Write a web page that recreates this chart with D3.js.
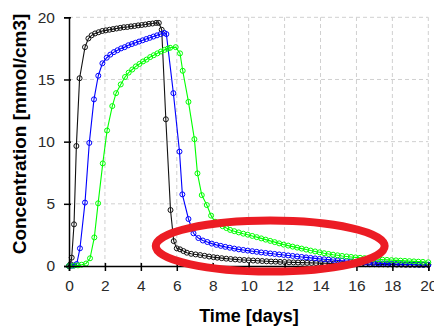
<!DOCTYPE html>
<html>
<head>
<meta charset="utf-8">
<script src="https://cdn.jsdelivr.net/npm/d3@7"></script>
<style>
  body { margin: 0; background: #fff; }
  svg { display: block; font-family: Arial, "Liberation Sans", sans-serif; }
</style>
</head>
<body>
<div id="chart"></div>
<script>
// tick labels
const xTicks = [0, 2, 4, 6, 8, 10, 12, 14, 16, 18, 20];
const yTicks = [0, 5, 10, 15, 20];

// series: [time (days), concentration (mmol/cm3)]
const blackSeries = [
  [0, 0], [0.08, 0.15], [0.15, 0.67], [0.28, 3.35], [0.41, 9.65], [0.59, 15.1], [0.89, 17.6],
  [1.08, 18.3], [1.26, 18.55], [1.45, 18.7], [1.65, 18.8], [1.85, 18.9], [2.05, 18.95], [2.25, 19.0],
  [2.45, 19.05], [2.65, 19.1], [2.85, 19.15], [3.05, 19.2], [3.25, 19.22], [3.45, 19.27], [3.65, 19.3],
  [3.85, 19.35], [4.05, 19.38], [4.25, 19.42], [4.45, 19.47], [4.65, 19.5], [4.85, 19.55], [5.0, 19.55],
  [5.16, 19.0], [5.39, 11.8], [5.65, 4.5], [5.83, 2.0], [6.0, 1.42], [6.18, 1.34], [6.37, 1.2],
  [6.56, 1.07], [6.8, 0.98], [7.05, 0.93], [7.3, 0.88], [7.55, 0.82], [7.8, 0.76], [8.04, 0.71],
  [8.25, 0.67], [8.5, 0.63], [8.75, 0.59], [9.0, 0.56], [9.25, 0.53], [9.5, 0.5], [9.75, 0.48],
  [10.0, 0.46], [10.25, 0.44], [10.5, 0.42], [10.75, 0.4], [11.0, 0.38], [11.25, 0.36], [11.5, 0.35],
  [11.75, 0.33], [12.0, 0.32], [12.25, 0.3], [12.5, 0.29], [12.75, 0.28], [13.0, 0.27], [13.25, 0.26],
  [13.5, 0.25], [13.75, 0.24], [14.0, 0.23], [14.25, 0.22], [14.5, 0.21], [14.75, 0.2], [15.0, 0.19],
  [15.25, 0.18], [15.5, 0.18], [15.75, 0.17], [16.0, 0.16], [16.25, 0.16], [16.5, 0.15], [16.75, 0.14],
  [17.0, 0.14], [17.25, 0.13], [17.5, 0.13], [17.75, 0.12], [18.0, 0.12], [18.25, 0.11], [18.5, 0.11],
  [18.75, 0.1], [19.0, 0.1], [19.25, 0.1], [19.5, 0.09], [19.75, 0.09], [20.0, 0.09]
];

const blueSeries = [
  [0, 0], [0.15, 0.02], [0.3, 0.05], [0.43, 0.16], [0.61, 1.42], [0.89, 5.1], [1.13, 9.9],
  [1.39, 13.4], [1.63, 15.3], [1.86, 16.3], [2.1, 16.75], [2.3, 17.0], [2.5, 17.2], [2.7, 17.35],
  [2.9, 17.5], [3.1, 17.6], [3.3, 17.75], [3.5, 17.85], [3.7, 17.95], [3.9, 18.05], [4.1, 18.15],
  [4.3, 18.25], [4.5, 18.35], [4.7, 18.45], [4.9, 18.55], [5.1, 18.65], [5.3, 18.75], [5.42, 18.65],
  [5.81, 13.9], [6.15, 9.2], [6.31, 5.76], [6.65, 3.78], [6.93, 2.63], [7.2, 2.25], [7.45, 2.05],
  [7.7, 1.93], [7.95, 1.8], [8.2, 1.7], [8.45, 1.62], [8.7, 1.54], [8.95, 1.47], [9.2, 1.4],
  [9.45, 1.34], [9.7, 1.29], [9.95, 1.24], [10.2, 1.19], [10.45, 1.14], [10.7, 1.09], [10.95, 1.05],
  [11.2, 1.01], [11.45, 0.97], [11.7, 0.93], [11.95, 0.89], [12.2, 0.85], [12.45, 0.81], [12.7, 0.77],
  [12.95, 0.73], [13.2, 0.69], [13.45, 0.65], [13.7, 0.61], [13.95, 0.57], [14.2, 0.54], [14.45, 0.51],
  [14.7, 0.48], [14.95, 0.45], [15.2, 0.42], [15.45, 0.39], [15.7, 0.36], [15.95, 0.33], [16.2, 0.3],
  [16.45, 0.28], [16.7, 0.26], [16.95, 0.24], [17.2, 0.22], [17.45, 0.2], [17.7, 0.19], [17.95, 0.17],
  [18.2, 0.16], [18.45, 0.15], [18.7, 0.14], [18.95, 0.13], [19.2, 0.12], [19.45, 0.11], [19.7, 0.1],
  [20.0, 0.1]
];

const greenSeries = [
  [0, 0], [0.25, 0.02], [0.5, 0.05], [0.7, 0.1], [0.95, 0.2], [1.17, 0.62], [1.41, 2.3],
  [1.62, 5.04], [1.88, 8.25], [2.12, 10.9], [2.41, 12.86], [2.62, 13.9], [2.88, 14.6], [3.12, 15.2],
  [3.32, 15.55], [3.52, 15.8], [3.72, 16.05], [3.92, 16.25], [4.12, 16.45], [4.32, 16.6], [4.52, 16.8],
  [4.72, 16.95], [4.92, 17.1], [5.12, 17.25], [5.32, 17.38], [5.5, 17.48], [5.63, 17.55], [5.94, 17.6],
  [6.18, 17.1], [6.33, 15.7], [6.65, 13.2], [6.98, 10.2], [7.15, 7.45], [7.39, 5.7], [7.67, 4.9],
  [7.91, 4.05], [8.13, 3.56], [8.35, 3.38], [8.55, 3.2], [8.76, 3.05], [8.97, 2.9], [9.2, 2.8],
  [9.45, 2.7], [9.7, 2.6], [9.95, 2.52], [10.2, 2.42], [10.45, 2.32], [10.7, 2.22], [10.95, 2.12],
  [11.2, 2.02], [11.45, 1.92], [11.7, 1.82], [11.95, 1.72], [12.2, 1.64], [12.45, 1.56], [12.7, 1.48],
  [12.95, 1.4], [13.2, 1.32], [13.45, 1.24], [13.7, 1.17], [13.95, 1.1], [14.2, 1.03], [14.45, 0.97],
  [14.7, 0.91], [14.95, 0.86], [15.2, 0.81], [15.45, 0.77], [15.7, 0.73], [15.95, 0.69], [16.2, 0.66],
  [16.45, 0.63], [16.7, 0.6], [16.95, 0.57], [17.2, 0.54], [17.45, 0.51], [17.7, 0.49], [17.95, 0.47],
  [18.2, 0.45], [18.45, 0.43], [18.7, 0.41], [18.95, 0.39], [19.2, 0.37], [19.45, 0.35], [19.7, 0.33],
  [20.0, 0.3]
];

const series = [
  {name: 'black', color: '#111111', values: blackSeries},
  {name: 'blue', color: '#0000ff', values: blueSeries},
  {name: 'green', color: '#00ff00', values: greenSeries}
];

// red annotation ellipse, in data units
const ellipseCenter = [11.2, 1.6];
const ellipseRadii = [6.37, 2.05];

const width = 434, height = 329;
const margin = {top: 17.3, right: 5.7, bottom: 63, left: 69};

const svg = d3.select('#chart')
  .append('svg')
  .attr('width', width)
  .attr('height', height);

const x = d3.scaleLinear().domain([0, 20]).range([margin.left, width - margin.right]);
const y = d3.scaleLinear().domain([0, 20]).range([height - margin.bottom, margin.top]);

// grid
const grid = svg.append('g')
  .attr('stroke', '#d0d0d0')
  .attr('stroke-width', 1)
  .attr('stroke-dasharray', '4,3');

grid.selectAll('line.vx')
  .data(xTicks.filter(d => d > 0))
  .enter().append('line')
  .attr('x1', d => x(d)).attr('x2', d => x(d))
  .attr('y1', y(0)).attr('y2', y(20));

grid.selectAll('line.hy')
  .data(yTicks.filter(d => d > 0))
  .enter().append('line')
  .attr('x1', x(0)).attr('x2', x(20))
  .attr('y1', d => y(d)).attr('y2', d => y(d));

// series lines + open circle markers
const line = d3.line()
  .x(d => x(d[0]))
  .y(d => y(d[1]));

series.forEach(function (s) {
  const g = svg.append('g').attr('class', 'series-' + s.name);
  g.append('path')
    .datum(s.values)
    .attr('fill', 'none')
    .attr('stroke', s.color)
    .attr('stroke-width', 1.1)
    .attr('d', line);
  g.selectAll('circle')
    .data(s.values)
    .enter().append('circle')
    .attr('cx', d => x(d[0]))
    .attr('cy', d => y(d[1]))
    .attr('r', 2.5)
    .attr('fill', 'none')
    .attr('stroke', s.color)
    .attr('stroke-width', 1);
});

// axes
const xAxis = svg.append('g')
  .attr('transform', `translate(0,${y(0)})`)
  .call(d3.axisBottom(x).tickValues(xTicks).tickSize(5).tickPadding(9).tickFormat(d3.format('d')));

const yAxis = svg.append('g')
  .attr('transform', `translate(${x(0)},0)`)
  .call(d3.axisLeft(y).tickValues(yTicks).tickSize(5).tickPadding(9).tickFormat(d3.format('d')));

[xAxis, yAxis].forEach(function (ax) {
  ax.select('.domain').attr('stroke', '#000').attr('stroke-width', 1.5);
  ax.selectAll('.tick line').attr('stroke', '#000').attr('stroke-width', 1.5);
  ax.selectAll('.tick text')
    .attr('fill', '#2a2a2a')
    .style('font-size', '15.5px')
    .style('font-family', 'Arial, "Liberation Sans", sans-serif');
});
xAxis.selectAll('.tick line').attr('y1', -3);
yAxis.selectAll('.tick line').attr('x1', 2);

// axis titles
svg.append('text')
  .attr('x', 249)
  .attr('y', 322)
  .attr('text-anchor', 'middle')
  .style('font-size', '18px')
  .style('font-weight', 'bold')
  .attr('fill', '#000')
  .text('Time [days]');

svg.append('text')
  .attr('transform', 'translate(26,134) rotate(-90)')
  .attr('text-anchor', 'middle')
  .style('font-size', '19px')
  .style('font-weight', 'bold')
  .attr('fill', '#000')
  .text('Concentration [mmol/cm3]');

// red hand-drawn style ellipse annotation
svg.append('ellipse')
  .attr('cx', x(ellipseCenter[0]))
  .attr('cy', y(ellipseCenter[1]))
  .attr('rx', x(ellipseCenter[0] + ellipseRadii[0]) - x(ellipseCenter[0]))
  .attr('ry', y(0) - y(ellipseRadii[1]))
  .attr('fill', 'none')
  .attr('stroke', '#ec1c24')
  .attr('stroke-width', 8);
</script>
</body>
</html>
